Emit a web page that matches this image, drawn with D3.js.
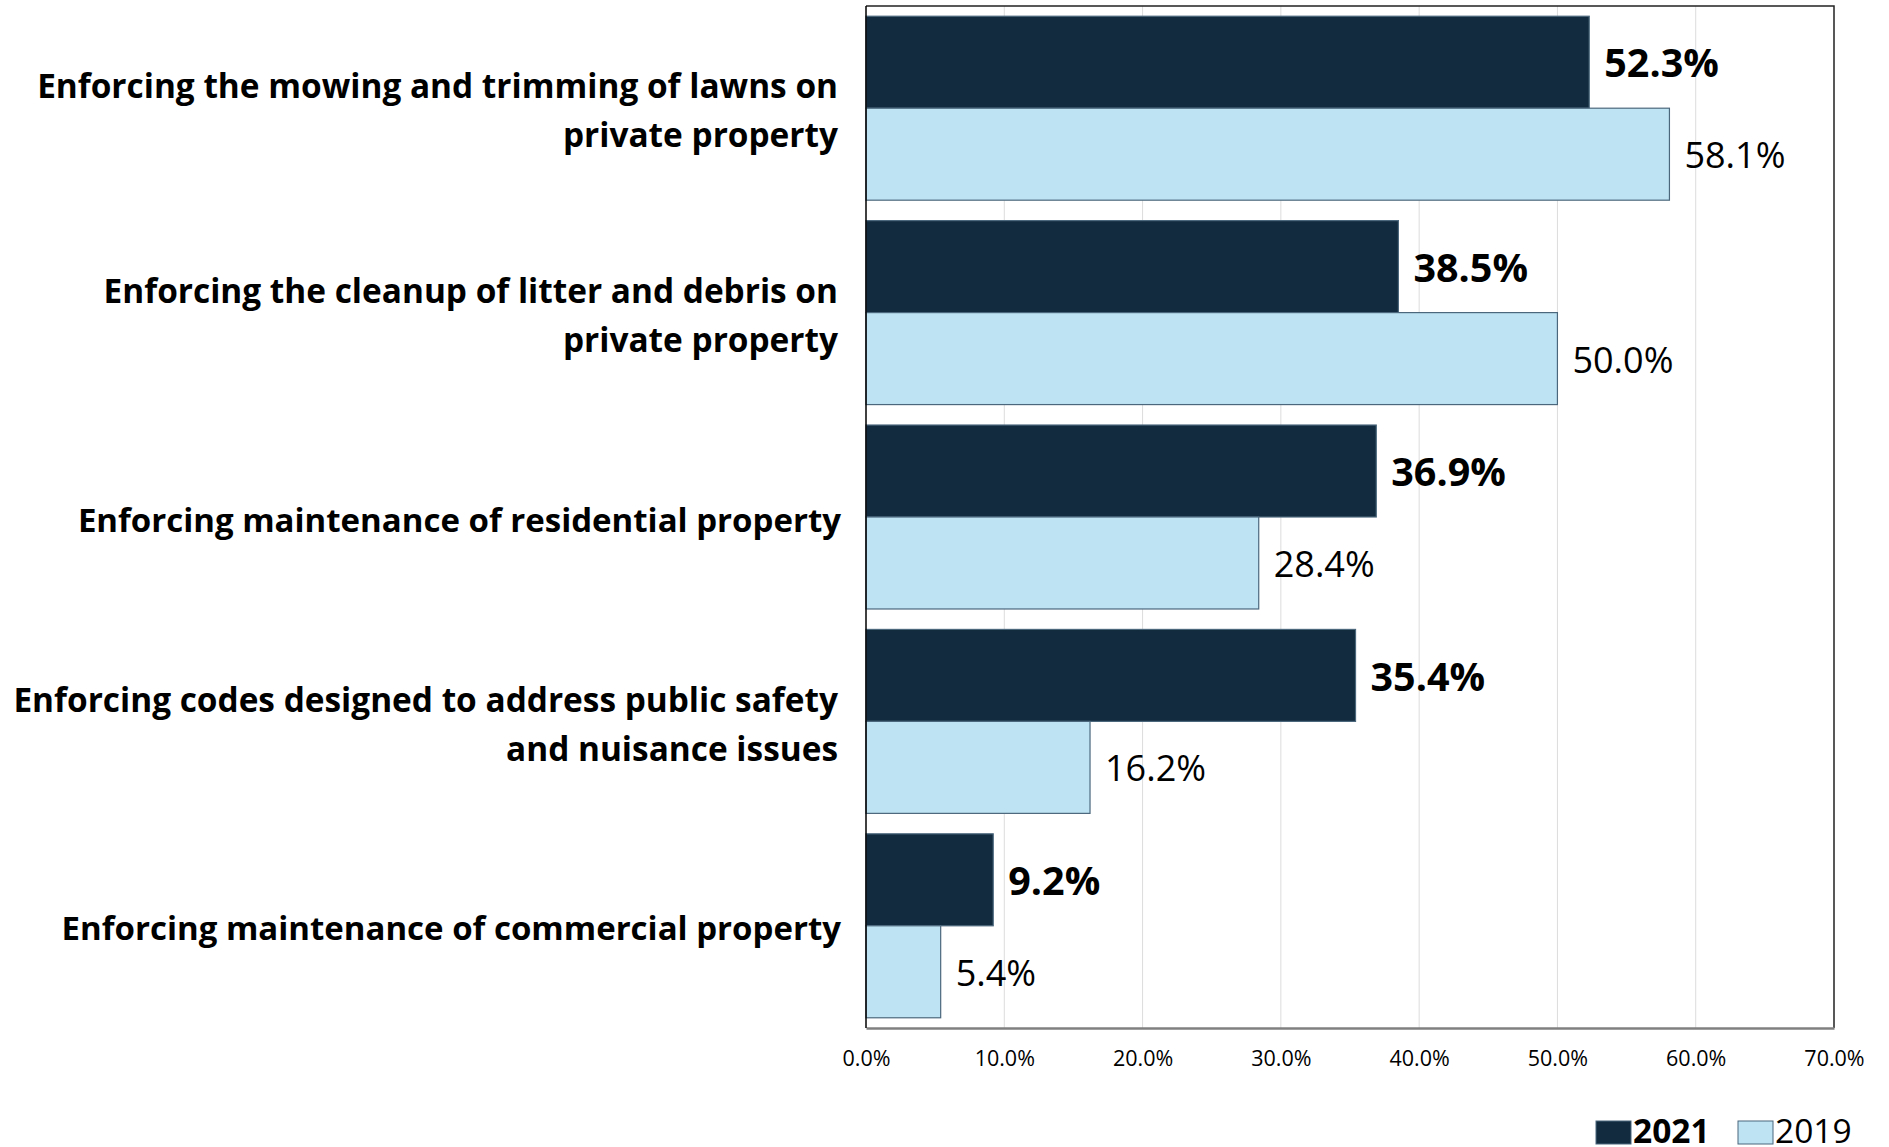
<!DOCTYPE html>
<html>
<head>
  <meta charset="utf-8">
  <title>Code enforcement priorities</title>
  <script src="https://cdn.jsdelivr.net/npm/d3@7"></script>
  <style>
    body { margin: 0; background: #fff; }
    text { font-family: "Open Sans", sans-serif; fill: #000; }
  </style>
</head>
<body>
<svg id="chart" width="1889" height="1147"></svg>
<script>
  // data
  const categories = [
    "Enforcing the mowing and trimming of lawns on private property",
    "Enforcing the cleanup of litter and debris on private property",
    "Enforcing maintenance of residential property",
    "Enforcing codes designed to address public safety and nuisance issues",
    "Enforcing maintenance of commercial property"
  ];
  const labelLines = [
    ["Enforcing the mowing and trimming of lawns on", "private property"],
    ["Enforcing the cleanup of litter and debris on", "private property"],
    ["Enforcing maintenance of residential property"],
    ["Enforcing codes designed to address public safety", "and nuisance issues"],
    ["Enforcing maintenance of commercial property"]
  ];
  const series = ["2021", "2019"];
  const values2021 = [52.3, 38.5, 36.9, 35.4, 9.2];
  const values2019 = [58.1, 50.0, 28.4, 16.2, 5.4];
  const xTicks = [0, 10, 20, 30, 40, 50, 60, 70];

  const colors = { "2021": "#122b3e", "2019": "#bee4f3" };

  const svg = d3.select('#chart');
  const pLeft = 866, pRight = 1834, pTop = 6, pBottom = 1028;

  const x = d3.scaleLinear().domain([0, 70]).range([pLeft, pRight]);
  const y = d3.scaleBand().domain(categories).range([pTop, pBottom])
    .paddingInner(0.1).paddingOuter(0.05);
  const ySub = d3.scaleBand().domain(series).range([0, y.bandwidth()]);

  // gridlines
  svg.append('g')
    .selectAll('line')
    .data(xTicks.slice(1, -1))
    .join('line')
    .attr('x1', d => x(d)).attr('x2', d => x(d))
    .attr('y1', pTop).attr('y2', pBottom)
    .attr('stroke', '#dcdcdc').attr('stroke-width', 1);

  // plot frame (top + right)
  svg.append('path')
    .attr('d', `M${pLeft},${pTop}H${pRight}V${pBottom}`)
    .attr('fill', 'none').attr('stroke', '#222').attr('stroke-width', 1.5);

  const rows = categories.map((c, i) => ({ cat: c, lines: labelLines[i], vals: [
    { s: "2021", v: values2021[i] }, { s: "2019", v: values2019[i] }
  ] }));

  const groups = svg.append('g')
    .selectAll('g')
    .data(rows)
    .join('g')
    .attr('transform', d => `translate(0,${y(d.cat)})`);

  groups.selectAll('rect')
    .data(d => d.vals)
    .join('rect')
    .attr('x', x(0))
    .attr('y', d => ySub(d.s))
    .attr('width', d => x(d.v) - x(0))
    .attr('height', ySub.bandwidth())
    .attr('fill', d => colors[d.s])
    .attr('stroke', '#4b677c')
    .attr('stroke-width', 1.2);

  groups.selectAll('text.val')
    .data(d => d.vals)
    .join('text')
    .attr('class', 'val')
    .attr('x', d => x(d.v) + 15)
    .attr('y', d => ySub(d.s) + ySub.bandwidth() / 2 + 1)
    .attr('dy', '0.36em')
    .style('font-size', d => d.s === "2021" ? '39.5px' : '36px')
    .style('font-weight', d => d.s === "2021" ? 'bold' : 'normal')
    .text(d => d.v.toFixed(1) + '%');

  // category labels (one-line labels sit a touch further right)
  groups.append('text')
    .attr('text-anchor', 'end')
    .style('font-size', '33.4px')
    .style('font-weight', 'bold')
    .selectAll('tspan')
    .data(d => d.lines.map((t, j) => ({ t, j, n: d.lines.length })))
    .join('tspan')
    .attr('x', d => d.n === 1 ? 841 : 838)
    .attr('y', d => y.bandwidth() / 2 + 3 + (d.j - (d.n - 1) / 2) * 49)
    .attr('dy', '0.35em')
    .style('font-size', d => d.n === 1 ? '33px' : null)
    .text(d => d.t);

  // x axis
  const xAxis = svg.append('g')
    .attr('transform', `translate(0,${pBottom})`)
    .call(d3.axisBottom(x).tickValues(xTicks).tickSize(0).tickPadding(23)
      .tickFormat(d => d.toFixed(1) + '%'));
  xAxis.select('.domain').attr('stroke', '#808080').attr('stroke-width', 2.5);
  xAxis.selectAll('text').style('font-size', '21.5px').attr('fill', '#000');

  // y axis line
  svg.append('line')
    .attr('x1', pLeft).attr('x2', pLeft).attr('y1', pTop).attr('y2', pBottom)
    .attr('stroke', '#000').attr('stroke-width', 1.5);

  // legend
  const legend = svg.append('g').attr('transform', 'translate(1596,1121)');
  const legendItems = [{ s: "2021", x: 0 }, { s: "2019", x: 142 }];
  legend.selectAll('rect')
    .data(legendItems)
    .join('rect')
    .attr('x', d => d.x).attr('y', 0)
    .attr('width', 35).attr('height', 23)
    .attr('fill', d => colors[d.s])
    .attr('stroke', '#4b677c').attr('stroke-width', 1);
  legend.selectAll('text')
    .data(legendItems)
    .join('text')
    .attr('x', d => d.x + 37).attr('y', 22)
    .style('font-size', '33.5px')
    .style('font-weight', d => d.s === "2021" ? 'bold' : 'normal')
    .text(d => d.s);
</script>
</body>
</html>
